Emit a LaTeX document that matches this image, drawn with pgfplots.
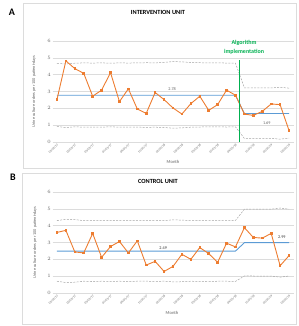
\documentclass[border=0pt]{standalone}
\usepackage{pgfplots}
\pgfplotsset{compat=1.18}
\usepackage{pgfplotstable}
\usepackage{fontspec}
\setmainfont{Carlito}
\definecolor{xorange}{RGB}{237,125,49}
\definecolor{xblue}{RGB}{91,155,213}
\definecolor{xgrey}{RGB}{165,165,165}
\definecolor{xgrid}{RGB}{220,220,220}
\definecolor{algogreen}{RGB}{0,176,80}
\definecolor{xtext}{RGB}{100,100,100}

\pgfplotstableread{
i a ma ua la b mb ub lb
0 2.52 2.78 4.66 0.92 3.60 2.49 4.30 0.70
1 4.82 2.78 4.64 0.86 3.72 2.49 4.38 0.62
2 4.36 2.78 4.68 0.90 2.44 2.49 4.36 0.64
3 4.08 2.78 4.70 0.88 2.38 2.49 4.30 0.70
4 2.72 2.78 4.69 0.89 3.54 2.49 4.32 0.68
5 3.08 2.78 4.70 0.88 2.12 2.49 4.30 0.70
6 4.12 2.78 4.68 0.90 2.76 2.49 4.31 0.69
7 2.40 2.78 4.70 0.88 3.06 2.49 4.30 0.70
8 3.16 2.78 4.69 0.89 2.38 2.49 4.32 0.68
9 1.96 2.78 4.70 0.88 3.10 2.49 4.30 0.70
10 1.70 2.78 4.71 0.87 1.66 2.49 4.30 0.70
11 2.94 2.78 4.70 0.88 1.88 2.49 4.31 0.69
12 2.52 2.78 4.73 0.86 1.28 2.49 4.30 0.70
13 2.02 2.78 4.78 0.82 1.58 2.49 4.35 0.66
14 1.66 2.78 4.76 0.84 2.30 2.49 4.33 0.67
15 2.28 2.78 4.72 0.88 2.00 2.49 4.30 0.70
16 2.72 2.78 4.71 0.89 2.70 2.49 4.31 0.69
17 1.88 2.78 4.70 0.90 2.34 2.49 4.32 0.68
18 2.22 2.78 4.70 0.90 1.82 2.49 4.30 0.70
19 3.08 2.78 4.69 0.89 2.96 2.49 4.30 0.70
20 2.78 2.78 4.68 0.90 2.74 2.49 4.31 0.69
21 1.66 1.69 3.22 0.21 3.88 2.99 4.98 1.01
22 1.58 1.69 3.21 0.22 3.30 2.99 4.98 1.01
23 1.82 1.69 3.22 0.21 3.26 2.99 4.99 1.00
24 2.26 1.69 3.21 0.22 3.54 2.99 4.98 1.01
25 2.22 1.69 3.25 0.17 1.62 2.99 5.05 0.94
26 0.68 1.69 3.20 0.23 2.22 2.99 4.98 1.01
}\datatable

\pgfplotstableread{
x y
20.45 0
20.45 4.9
}\algoline

\pgfplotsset{
  panel/.style={
    scale only axis, width=241pt, height=101pt,
    anchor=south west,
    xmin=-0.5, xmax=26.5, ymin=0, ymax=6,
    xtick={0,2,...,26},
    xticklabels={01/01/17,03/01/17,05/01/17,07/01/17,09/01/17,11/01/17,01/01/18,03/01/18,05/01/18,07/01/18,09/01/18,11/01/18,01/01/19,03/01/19},
    ytick={0,1,...,6},
    ymajorgrids, grid style={xgrid, line width=0.5pt},
    axis x line*=bottom, axis y line*=left,
    x axis line style={xgrid, line width=0.6pt, -},
    y axis line style={draw=none},
    major tick length=0pt,
    tick label style={text=xtext},
    xticklabel style={font=\fontsize{3.2}{3.5}\selectfont, rotate=45, anchor=north east, inner sep=1pt},
    yticklabel style={font=\fontsize{4}{4.5}\selectfont, inner sep=1.5pt},
    clip=false,
  },
  ucl/.style={xgrey, line width=0.5pt, dash pattern=on 2pt off 1.3pt},
  ser/.style={xorange, line width=0.9pt, mark=square*, mark size=0.8pt, mark options={solid}},
  mean/.style={xblue, line width=0.9pt},
}

\begin{document}
\begin{tikzpicture}[x=1pt,y=1pt]
\path[use as bounding box] (0,0) rectangle (298,326);
\draw[xgrid, line width=0.5pt] (23,323) rectangle (296,158);
\draw[xgrid, line width=0.5pt] (22,153) rectangle (296,2);
\node[font=\fontsize{10}{12}\selectfont\bfseries] at (12,314) {A};
\node[font=\fontsize{10}{12}\selectfont\bfseries] at (13,149) {B};
\node[font=\fontsize{6.3}{7}\selectfont\bfseries] at (158,314) {INTERVENTION UNIT};
\node[font=\fontsize{6.3}{7}\selectfont\bfseries] at (158,145) {CONTROL UNIT};
\node[font=\fontsize{4.6}{5}\selectfont, text=xtext] at (173,164) {Month};
\node[font=\fontsize{4.6}{5}\selectfont, text=xtext] at (172,13) {Month};
\node[font=\fontsize{4.3}{5}\selectfont, text=xtext, rotate=90] at (34,234.5) {Urine culture orders per 100 patient-days};
\node[font=\fontsize{4.3}{5}\selectfont, text=xtext, rotate=90] at (35,83.5) {Urine culture orders per 100 patient-days};

\begin{axis}[panel, at={(52.5pt,184pt)}]
\addplot[ucl] table[x=i,y=ua] {\datatable};
\addplot[ucl] table[x=i,y=la] {\datatable};
\addplot[mean] table[x=i,y=ma] {\datatable};
\addplot[ser] table[x=i,y=a] {\datatable};
\addplot[color=algogreen, solid, no marks, line width=1.4pt] table[x=x,y=y] {\algoline};
\node[font=\fontsize{4.2}{5}\selectfont, text=xtext] at (axis cs:12.9,3.16) {2.78};
\node[font=\fontsize{4.2}{5}\selectfont, text=xtext] at (axis cs:23.5,1.13) {1.69};
\node[font=\fontsize{6}{8.5}\selectfont\bfseries, text=algogreen, align=center] at (axis cs:20.96,5.63) {Algorithm\\implementation};
\end{axis}

\begin{axis}[panel, at={(52.5pt,33pt)}]
\addplot[ucl] table[x=i,y=ub] {\datatable};
\addplot[ucl] table[x=i,y=lb] {\datatable};
\addplot[mean] table[x=i,y=mb] {\datatable};
\addplot[ser] table[x=i,y=b] {\datatable};
\node[font=\fontsize{4.2}{5}\selectfont, text=black!80] at (axis cs:11.9,2.67) {2.49};
\node[font=\fontsize{4.2}{5}\selectfont, text=black!80] at (axis cs:25.2,3.33) {2.99};
\end{axis}
\end{tikzpicture}
\end{document}
